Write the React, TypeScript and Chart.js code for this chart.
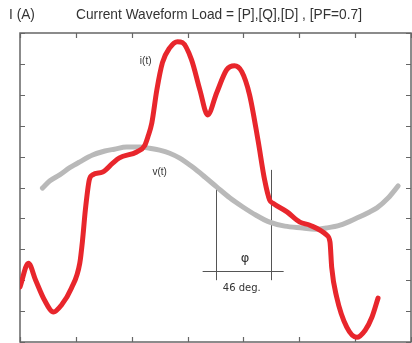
import React, { useEffect, useRef } from "react";
import { Chart, registerables } from "chart.js";

Chart.register(...registerables);

const titleText = "Current Waveform Load = [P],[Q],[D] , [PF=0.7]";
const yAxisTitle = "I (A)";
const xTicks = [0, 1, 2, 3, 4, 5, 6, 7];
const yTicks = [0, 1, 2, 3, 4, 5, 6, 7, 8, 9, 10];

const voltageX = [0.40, 0.53, 0.71, 0.89, 1.07, 1.30, 1.52, 1.69, 1.91, 2.14, 2.32, 2.50, 2.68, 2.86, 3.09, 3.31, 3.52, 3.76, 3.99, 4.22, 4.47, 4.74, 5.06, 5.28, 5.49, 5.73, 6.03, 6.26, 6.39, 6.59, 6.77];
const voltageY = [4.98, 5.21, 5.41, 5.64, 5.83, 6.05, 6.18, 6.24, 6.31, 6.31, 6.27, 6.21, 6.11, 5.95, 5.66, 5.34, 5.02, 4.66, 4.37, 4.11, 3.88, 3.75, 3.69, 3.65, 3.69, 3.78, 4.01, 4.21, 4.34, 4.66, 5.05];

const currentX = [0.00, 0.15, 0.28, 0.44, 0.60, 0.74, 0.92, 1.07, 1.12, 1.17, 1.24, 1.30, 1.48, 1.66, 1.78, 2.09, 2.23, 2.29, 2.36, 2.45, 2.55, 2.68, 2.82, 2.91, 3.07, 3.22, 3.36, 3.52, 3.70, 3.84, 3.97, 4.11, 4.26, 4.38, 4.47, 4.53, 4.78, 5.01, 5.19, 5.49, 5.55, 5.58, 5.67, 5.85, 6.03, 6.18, 6.30, 6.41];
const currentY = [1.78, 2.55, 2.00, 1.35, 0.97, 1.19, 1.74, 2.55, 3.30, 4.27, 5.24, 5.41, 5.50, 5.79, 5.96, 6.15, 6.35, 6.64, 7.09, 8.16, 9.04, 9.52, 9.72, 9.69, 9.14, 8.16, 7.35, 8.06, 8.81, 8.94, 8.75, 8.00, 6.54, 5.24, 4.59, 4.49, 4.21, 3.88, 3.78, 3.46, 3.23, 2.42, 1.45, 0.48, 0.15, 0.38, 0.80, 1.42];

// phase-angle annotation (data coordinates)
const phaseLeftX = 3.5;
const phaseRightX = 4.49;
const phaseLeftTop = 5.0;
const phaseRightTop = 5.57;
const phaseBottom = 2.0;
const phaseBarY = 2.29;
const phaseBarFrom = 3.27;
const phaseBarTo = 4.72;
const phaseLabel = "φ";
const phaseLabelPos = [4.03, 2.71];
const degLabel = "46 deg.";
const degLabelPos = [3.97, 1.74];
const iLabel = "i(t)";
const iLabelPos = [2.25, 9.1];
const vLabel = "v(t)";
const vLabelPos = [2.5, 5.5];

const decorPlugin = {
  id: "decor",
  beforeDatasetsDraw(chart: any) {
    const { ctx, chartArea: a, scales } = chart;
    const xs = scales.x;
    const ys = scales.y;
    ctx.save();
    // annotation lines
    ctx.strokeStyle = "#555";
    ctx.lineWidth = 1;
    ctx.beginPath();
    const lx = Math.round(xs.getPixelForValue(phaseLeftX)) + 0.5;
    const rx = Math.round(xs.getPixelForValue(phaseRightX)) + 0.5;
    ctx.moveTo(lx, ys.getPixelForValue(phaseLeftTop));
    ctx.lineTo(lx, ys.getPixelForValue(phaseBottom));
    ctx.moveTo(rx, ys.getPixelForValue(phaseRightTop));
    ctx.lineTo(rx, ys.getPixelForValue(phaseBottom));
    const by = Math.round(ys.getPixelForValue(phaseBarY)) + 0.5;
    ctx.moveTo(xs.getPixelForValue(phaseBarFrom), by);
    ctx.lineTo(xs.getPixelForValue(phaseBarTo), by);
    ctx.stroke();
    // frame
    ctx.strokeStyle = "#666";
    ctx.lineWidth = 1.5;
    ctx.strokeRect(a.left, a.top, a.right - a.left, a.bottom - a.top);
    // inward ticks
    ctx.lineWidth = 1.2;
    ctx.beginPath();
    const tl = 5;
    xTicks.forEach((t) => {
      const px = Math.round(xs.getPixelForValue(t)) + 0.5;
      ctx.moveTo(px, a.bottom);
      ctx.lineTo(px, a.bottom - tl);
      ctx.moveTo(px, a.top);
      ctx.lineTo(px, a.top + tl);
    });
    yTicks.forEach((t) => {
      const py = Math.round(ys.getPixelForValue(t)) + 0.5;
      ctx.moveTo(a.left, py);
      ctx.lineTo(a.left + tl, py);
      ctx.moveTo(a.right, py);
      ctx.lineTo(a.right - tl, py);
    });
    ctx.stroke();
    ctx.restore();
  },
  afterDraw(chart: any) {
    const { ctx, scales } = chart;
    const xs = scales.x;
    const ys = scales.y;
    ctx.save();
    ctx.fillStyle = "#333";
    ctx.textBaseline = "middle";
    // title, horizontally condensed
    ctx.font = '15px "Liberation Sans", Arial, sans-serif';
    const w = ctx.measureText(titleText).width;
    const target = 286;
    ctx.save();
    ctx.translate(76, 15);
    ctx.scale(target / w, 1);
    ctx.textAlign = "left";
    ctx.fillText(titleText, 0, 0);
    ctx.restore();
    const w2 = ctx.measureText(yAxisTitle).width;
    ctx.save();
    ctx.translate(9, 15);
    ctx.scale(0.915, 1);
    ctx.fillText(yAxisTitle, 0, 0);
    ctx.restore();
    void w2;
    // labels
    ctx.textAlign = "center";
    ctx.font = '10px "Liberation Sans", Arial, sans-serif';
    ctx.fillText(iLabel, xs.getPixelForValue(iLabelPos[0]), ys.getPixelForValue(iLabelPos[1]));
    ctx.fillText(vLabel, xs.getPixelForValue(vLabelPos[0]), ys.getPixelForValue(vLabelPos[1]));
    ctx.font = '13px "DejaVu Sans", sans-serif';
    ctx.fillText(phaseLabel, xs.getPixelForValue(phaseLabelPos[0]), ys.getPixelForValue(phaseLabelPos[1]));
    ctx.font = '10px "DejaVu Sans", sans-serif';
    ctx.fillText(degLabel, xs.getPixelForValue(degLabelPos[0]), ys.getPixelForValue(degLabelPos[1]));
    ctx.restore();
  },
};

export default function App() {
  const ref = useRef<HTMLCanvasElement>(null);
  useEffect(() => {
    if (!ref.current) return;
    const chart = new Chart(ref.current, {
      type: "line",
      data: {
        datasets: [
          {
            label: "i(t)",
            data: currentX.map((x, i) => ({ x, y: currentY[i] })),
            borderColor: "#e8262c",
            borderWidth: 5,
            pointRadius: 0,
            cubicInterpolationMode: "monotone",
            fill: false,
            order: 0,
            borderCapStyle: "round",
            borderJoinStyle: "round",
          },
          {
            label: "v(t)",
            data: voltageX.map((x, i) => ({ x, y: voltageY[i] })),
            borderColor: "#b9b9b9",
            borderWidth: 5,
            pointRadius: 0,
            cubicInterpolationMode: "monotone",
            fill: false,
            order: 1,
            borderCapStyle: "round",
            borderJoinStyle: "round",
          },
        ],
      },
      options: {
        animation: false,
        responsive: true,
        maintainAspectRatio: false,
        layout: { padding: { left: 20, top: 33, right: 1, bottom: 1 } },
        plugins: { legend: { display: false }, tooltip: { enabled: false } },
        scales: {
          x: { type: "linear", min: 0, max: 7, display: false },
          y: { type: "linear", min: 0, max: 10, display: false },
        },
      },
      plugins: [decorPlugin],
    });
    return () => chart.destroy();
  }, []);
  return (
    <div style={{ position: "fixed", left: 0, top: 0, width: 412, height: 343, background: "#fff" }}>
      <canvas ref={ref} />
    </div>
  );
}
